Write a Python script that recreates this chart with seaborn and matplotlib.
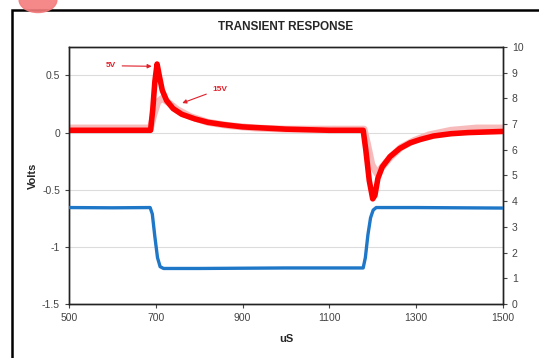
import matplotlib
matplotlib.use("Agg")
import matplotlib.pyplot as plt
import pandas as pd
import seaborn as sns
from matplotlib.patches import Rectangle, Circle

# 5V output voltage trace (uS, Volts)
t_5v = [500, 600, 688, 693, 698, 703, 708, 715, 725, 740, 760, 790, 820, 855, 900,
        950, 1000, 1100, 1178, 1184, 1192, 1200, 1205, 1212, 1222, 1240, 1262, 1286,
        1310, 1340, 1380, 1420, 1500]
v_5v = [0.02, 0.02, 0.02, 0.2, 0.45, 0.6, 0.5, 0.37, 0.28, 0.21, 0.16, 0.12, 0.09, 0.07, 0.05,
        0.04, 0.03, 0.02, 0.02, -0.15, -0.42, -0.58, -0.55, -0.4, -0.3, -0.21, -0.14, -0.09,
        -0.06, -0.03, -0.01, 0.0, 0.01]

# 15V output voltage trace (uS, Volts)
t_15v = [500, 688, 695, 705, 715, 730, 750, 780, 820, 870, 930, 1000, 1100, 1180,
         1188, 1198, 1210, 1222, 1240, 1265, 1295, 1330, 1380, 1440, 1500]
v_15v = [0.04, 0.04, 0.15, 0.27, 0.3, 0.26, 0.2, 0.14, 0.09, 0.06, 0.04, 0.03, 0.03, 0.03,
         -0.1, -0.28, -0.36, -0.3, -0.22, -0.13, -0.07, -0.02, 0.02, 0.04, 0.04]

# load current (uS, Amps)
t_amp = [500, 600, 687, 692, 698, 704, 710, 718, 800, 1000, 1178, 1183, 1189, 1195,
         1201, 1208, 1300, 1500]
i_amp = [3.75, 3.74, 3.75, 3.5, 2.6, 1.8, 1.45, 1.38, 1.38, 1.4, 1.4, 1.8, 2.7, 3.35,
         3.65, 3.75, 3.75, 3.73]

df_5v = pd.DataFrame({"uS": t_5v, "Volts": v_5v})
df_15v = pd.DataFrame({"uS": t_15v, "Volts": v_15v})
df_amp = pd.DataFrame({"uS": t_amp, "Amps": i_amp})

sns.set_style("white")
plt.rcParams["font.family"] = ["Liberation Sans", "DejaVu Sans"]

fig = plt.figure(figsize=(5.39, 3.58), dpi=100)
ax = fig.add_axes([0.128, 0.151, 0.805, 0.718])
ax2 = ax.twinx()

# outer chart border and the pink mark at the top
fig.patches.append(Rectangle((12 / 539, -0.05), 1.2, (358 - 10) / 358 + 0.05,
                             transform=fig.transFigure, fill=False,
                             edgecolor="black", linewidth=1.8))
fig.patches.append(Circle((38 / 539, 1.0), 0.035, transform=fig.transFigure,
                          color="#f47c7c", alpha=0.9))

for y in [0.5, 0, -0.5, -1]:
    ax.axhline(y, color="#dcdcdc", linewidth=0.8, zorder=0)

sns.lineplot(data=df_15v, x="uS", y="Volts", ax=ax, color="#f8b4b4",
             linewidth=5, alpha=0.9, zorder=2)
sns.lineplot(data=df_5v, x="uS", y="Volts", ax=ax, color="#ff0000",
             linewidth=4.0, zorder=3)
sns.lineplot(data=df_amp, x="uS", y="Amps", ax=ax2, color="#1f77c8",
             linewidth=2.4, zorder=3)

ax.set_xlim(500, 1500)
ax.set_ylim(-1.5, 0.75)
ax.set_xticks([500, 700, 900, 1100, 1300, 1500])
ax.set_yticks([-1.5, -1, -0.5, 0, 0.5])
ax.set_yticklabels(["-1.5", "-1", "-0.5", "0", "0.5"])
ax2.set_ylim(0, 10)
ax2.set_yticks(range(0, 11))

ax.set_xlabel("uS", fontsize=8, fontweight="bold", labelpad=8)
ax.set_ylabel("Volts", fontsize=8, fontweight="bold", labelpad=3)
ax2.set_ylabel("Amps", fontsize=8, fontweight="bold", labelpad=14)
ax.set_title("TRANSIENT RESPONSE", fontsize=8.5, fontweight="bold", pad=12)

for a in (ax, ax2):
    a.tick_params(axis="both", labelsize=7.5, colors="#444444", length=3,
                  direction="out", width=0.8)
    for s in a.spines.values():
        s.set_color("#222222")
        s.set_linewidth(1.0)
ax.tick_params(axis="x", bottom=True)
ax.tick_params(axis="y", left=True)
ax2.tick_params(axis="y", right=True)

ax.annotate("5V", xy=(697, 0.58), xytext=(585, 0.585), fontsize=6,
            color="#e0202a", fontweight="bold", va="center",
            arrowprops=dict(arrowstyle="-|>", color="#e0202a", lw=0.8,
                            mutation_scale=6))
ax.annotate("15V", xy=(755, 0.25), xytext=(830, 0.38), fontsize=6,
            color="#e0202a", fontweight="bold", va="center",
            arrowprops=dict(arrowstyle="-|>", color="#e0202a", lw=0.8,
                            mutation_scale=6))

fig.savefig("out.png", dpi=100)
